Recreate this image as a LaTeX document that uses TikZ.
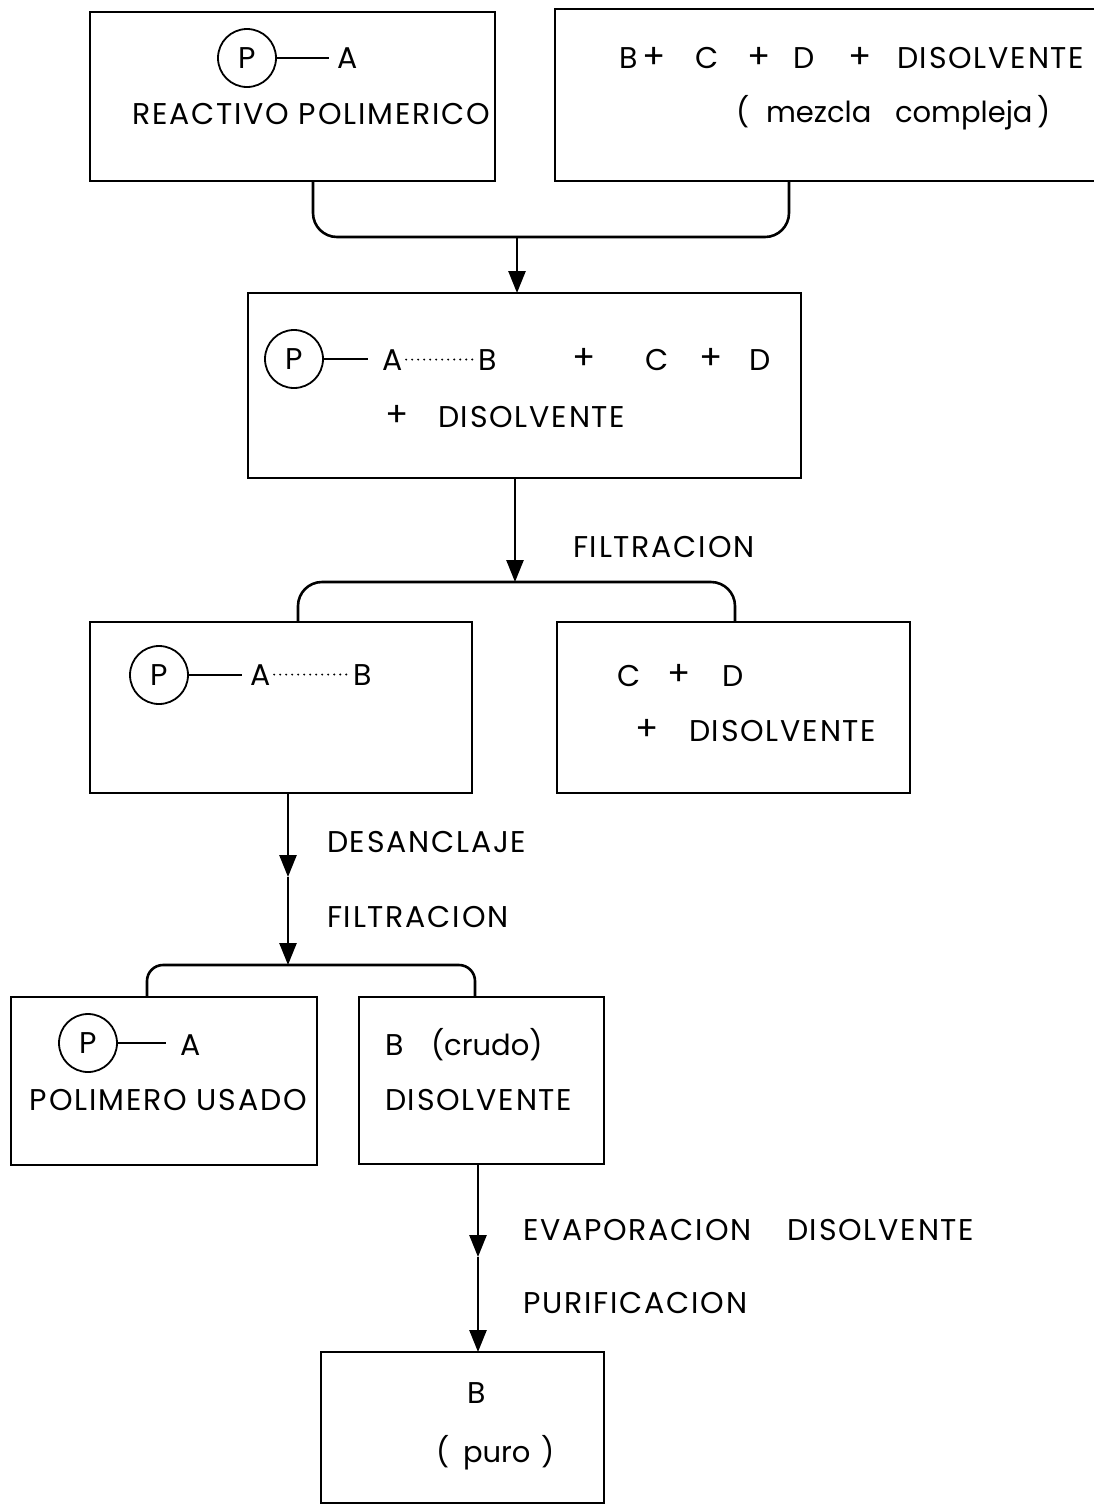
\documentclass[tikz,border=0pt]{standalone}
\usepackage{fontspec}
\setmainfont{Poppins}[LetterSpace=6]
\usetikzlibrary{arrows.meta,calc}
\begin{document}
\begin{tikzpicture}[x=0.5pt,y=-0.5pt,
 box/.style={draw,line width=1.4pt,inner sep=0pt,outer sep=0pt},
 conn/.style={line width=1.3pt},
 arr/.style={conn,-{Triangle[length=11pt,width=8.5pt]}},
 txt/.style={inner sep=0pt,outer sep=0pt,anchor=base west,font=\fontsize{15}{18}\selectfont},
 low/.style={txt,font=\fontsize{14.5}{18}\selectfont\addfontfeatures{LetterSpace=0}},
 pl/.style={inner sep=0pt,outer sep=0pt,anchor=center,font=\fontsize{17}{18}\selectfont\addfontfeatures{LetterSpace=0}},
 ptn/.style={draw,circle,line width=0.9pt,minimum size=29pt,inner sep=0pt,font=\fontsize{15}{18}\selectfont},
 bond/.style={line width=0.9pt},
 hbond/.style={line width=1.1pt,line cap=round,dash pattern=on 0pt off 3pt},
]
\useasboundingbox (0,0) rectangle (1094,1506);
% boxes
\node[box,minimum width=202.5pt,minimum height=84.5pt] (b1) at (292.5,96.5) {};
\node[inner sep=0pt,outer sep=0pt,minimum width=269.5pt,minimum height=86pt] (b2) at (824.5,95) {};
\draw[line width=1.4pt] (b2.north east) -- (b2.north west) -- (b2.south west) -- (b2.south east);
\node[box,minimum width=276.5pt,minimum height=92.5pt] (b3) at (524.5,385.5) {};
\node[box,minimum width=191pt,minimum height=85.5pt] (b4) at (281,707.5) {};
\node[box,minimum width=176.5pt,minimum height=85.5pt] (b5) at (733.5,707.5) {};
\node[box,minimum width=153pt,minimum height=84pt] (b6) at (164,1081) {};
\node[box,minimum width=122.5pt,minimum height=83.5pt] (b7) at (481.5,1080.5) {};
\node[box,minimum width=141.5pt,minimum height=75.5pt] (b8) at (462.5,1427.5) {};

% box 1
\node[ptn] (p1) at (247,58) {P};
\node[txt] (a1) at (337,68) {A};
\draw[bond] (p1.east) -- ($(p1.east -| a1.west)+(-8,0)$);
\node[txt] (t1) at (132,124) {REACTIVO POLIMERICO};
% box 2
\node[txt] (t2a) at (619,68) {B};
\node[pl] (t2b) at (654,58) {+};
\node[txt] (t2c) at (695,68) {C};
\node[pl] (t2d) at (759,58) {+};
\node[txt] (t2e) at (793,68) {D};
\node[pl] (t2f) at (860,58) {+};
\node[txt] (t2g) at (897,68) {DISOLVENTE};
\node[low] (t2h) at (736,122) {(};
\node[low] (t2i) at (766,122) {mezcla};
\node[low] (t2j) at (895,122) {compleja};
\node[low] (t2k) at (1037,122) {)};
% box 3
\node[ptn] (p3) at (294,359) {P};
\node[txt] (a3) at (382,370) {A};
\node[txt] (bb3) at (478,370) {B};
\draw[bond] (p3.east) -- ($(p3.east -| a3.west)+(-14,0)$);
\draw[hbond] ($(a3.east)+(4,0)$) -- ($(bb3.west)+(-1,0)$);
\node[pl] (t3a) at (584,359) {+};
\node[txt] (t3b) at (645,370) {C};
\node[pl] (t3c) at (711,359) {+};
\node[txt] (t3d) at (749,370) {D};
\node[pl] (t3e) at (397,416) {+};
\node[txt] (t3f) at (438,427) {DISOLVENTE};
% box 4
\node[ptn] (p4) at (159,675) {P};
\node[txt] (a4) at (250,685) {A};
\node[txt] (bb4) at (353,685) {B};
\draw[bond] (p4.east) -- ($(p4.east -| a4.west)+(-8,0)$);
\draw[hbond] ($(a4.east)+(4,0)$) -- ($(bb4.west)+(-1,0)$);
% box 5
\node[txt] (t5a) at (617,686) {C};
\node[pl] (t5b) at (679,675) {+};
\node[txt] (t5c) at (722,686) {D};
\node[pl] (t5d) at (647,730) {+};
\node[txt] (t5e) at (689,741) {DISOLVENTE};
% box 6
\node[ptn] (p6) at (88,1043) {P};
\node[txt] (a6) at (180,1055) {A};
\draw[bond] (p6.east) -- ($(p6.east -| a6.west)+(-14,0)$);
\node[txt] (t6) at (30,1110) {POLIMERO USADO};
% box 7
\node[txt] (t7a) at (385,1055) {B};
\node[low] (t7b) at (431,1055) {(crudo)};
\node[txt] (t7c) at (385,1110) {DISOLVENTE};
% box 8
\node[txt] (t8a) at (467,1403) {B};
\node[low] (t8b) at (436,1462) {(};
\node[low] (t8c) at (463,1462) {puro};
\node[low] (t8d) at (541,1462) {)};
% labels
\node[txt] (l1) at (573,557) {FILTRACION};
\node[txt] (l2) at (327,852) {DESANCLAJE};
\node[txt] (l3) at (327,927) {FILTRACION};
\node[txt] (l4) at (523,1240) {EVAPORACION};
\node[txt] (l5) at (787,1240) {DISOLVENTE};
\node[txt] (l6) at (523,1313) {PURIFICACION};

% connectors
\coordinate (j1l) at (313,237);
\coordinate (j1) at (517,237);
\coordinate (j1r) at (789,237);
\draw[conn,rounded corners=12pt] (b1.south -| j1l) -- (j1l) -- (j1r) -- (b2.south -| j1r);
\draw[arr] (j1) -- (b3.north -| j1);

\coordinate (j2l) at (298,582);
\coordinate (j2) at (515,582);
\coordinate (j2r) at (735,582);
\draw[arr] (b3.south -| j2) -- (j2);
\draw[conn,rounded corners=12pt] (b4.north -| j2l) -- (j2l) -- (j2r) -- (b5.north -| j2r);

\coordinate (j3l) at (147,965);
\coordinate (m3) at (288,877);
\coordinate (j3) at (288,965);
\coordinate (j3r) at (475,965);
\draw[arr] (b4.south -| m3) -- (m3);
\draw[arr] (m3) -- (j3);
\draw[conn,rounded corners=8pt] (b6.north -| j3l) -- (j3l) -- (j3r) -- (b7.north -| j3r);

\coordinate (m4) at (478,1257);
\draw[arr] (b7.south -| m4) -- (m4);
\draw[arr] (m4) -- (b8.north -| m4);
\end{tikzpicture}
\end{document}
